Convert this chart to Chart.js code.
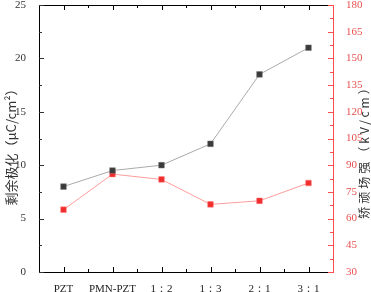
<!DOCTYPE html>
<html><head><meta charset="utf-8">
<script src="https://cdn.jsdelivr.net/npm/chart.js@4/dist/chart.umd.min.js"></script>
<style>html,body{margin:0;padding:0;background:#fff}#wrap{width:371px;height:292px}</style>
</head><body><div id="wrap"><canvas id="c" width="371" height="292"></canvas></div>
<script>
const categories = ["PZT", "PMN-PZT", "1：2", "1：3", "2：1", "3：1"];
const remanentPolarization = [8, 9.5, 10, 12, 18.5, 21];
const coerciveField = [65, 85, 82, 68, 70, 80];
const leftTitle = "剩余极化（μC/cm²）";
const rightTitle = "矫顽场强（kV/cm）";

const tickPlugin = {
  id: 'inTicks',
  afterDraw(chart) {
    const ctx = chart.ctx, a = chart.chartArea;
    const x = chart.scales.x, y = chart.scales.y, y1 = chart.scales.y1;
    ctx.save();
    ctx.strokeStyle = '#000'; ctx.lineWidth = 1;
    ctx.beginPath(); ctx.moveTo(a.left, a.top + 0.5); ctx.lineTo(a.right, a.top + 0.5); ctx.stroke();
    for (let i = 0; i < categories.length; i++) {
      const px = Math.round(x.getPixelForValue(i)) + 0.5;
      ctx.beginPath();
      ctx.moveTo(px, a.bottom); ctx.lineTo(px, a.bottom - 5);
      ctx.moveTo(px, a.top); ctx.lineTo(px, a.top + 5);
      ctx.stroke();
      if (i < categories.length - 1) {
        const mx = Math.round(x.getPixelForValue(i + 0.5)) + 0.5;
        ctx.beginPath();
        ctx.moveTo(mx, a.bottom); ctx.lineTo(mx, a.bottom - 3);
        ctx.moveTo(mx, a.top); ctx.lineTo(mx, a.top + 3);
        ctx.stroke();
      }
    }
    ctx.strokeStyle = '#333';
    for (let v = 0; v <= 25; v += 2.5) {
      const py = Math.round(y.getPixelForValue(v)) + 0.5;
      const len = (v % 5 === 0) ? 5 : 3;
      ctx.beginPath(); ctx.moveTo(a.left, py); ctx.lineTo(a.left + len, py); ctx.stroke();
    }
    ctx.strokeStyle = '#ff4d4d';
    for (let v = 30; v <= 180; v += 7.5) {
      const py = Math.round(y1.getPixelForValue(v)) + 0.5;
      const len = (Math.abs((v - 30) % 15) < 0.01) ? 5 : 3;
      ctx.beginPath(); ctx.moveTo(a.right, py); ctx.lineTo(a.right - len, py); ctx.stroke();
    }
    ctx.fillStyle = '#333';
    ctx.textAlign = 'center'; ctx.textBaseline = 'middle';
    ctx.font = '13px "Noto Sans CJK SC"';
    ctx.save(); ctx.translate(11, 144); ctx.rotate(-Math.PI / 2); ctx.fillText(leftTitle, 0, 0); ctx.restore();
    ctx.font = '12px "Noto Sans CJK SC"';
    ctx.save(); ctx.translate(364, 149); ctx.rotate(-Math.PI / 2);
    ctx.letterSpacing = '3px';
    ctx.fillText(rightTitle, 0, 0); ctx.restore();
    ctx.restore();
  }
};

new Chart(document.getElementById('c'), {
  type: 'line',
  data: {
    labels: categories,
    datasets: [
      { label: 'Pr', data: remanentPolarization, yAxisID: 'y', borderColor: '#aaaaaa', borderWidth: 1,
        pointStyle: 'rect', pointRadius: 4, pointBackgroundColor: '#3a3a3a', pointBorderColor: '#777', pointBorderWidth: 0.5, tension: 0 },
      { label: 'Ec', data: coerciveField, yAxisID: 'y1', borderColor: '#ff9c9c', borderWidth: 1,
        pointStyle: 'rect', pointRadius: 4, pointBackgroundColor: '#f02c2c', pointBorderColor: '#ff8080', pointBorderWidth: 0.5, tension: 0 }
    ]
  },
  options: {
    responsive: false, animation: false, devicePixelRatio: 1,
    layout: { padding: 0 },
    plugins: { legend: { display: false }, tooltip: { enabled: false } },
    scales: {
      x: {
        offset: true,
        grid: { display: false },
        border: { display: true, color: '#000', width: 1 },
        ticks: { color: '#222', font: { family: 'Liberation Serif', size: 11 }, padding: 3, maxRotation: 0, autoSkip: false },
        afterFit(s) { s.height = 20; s.paddingLeft = 0; s.paddingRight = 0; }
      },
      y: {
        position: 'left', min: 0, max: 25,
        grid: { display: false },
        border: { display: true, color: '#000', width: 1 },
        ticks: { stepSize: 5, color: '#333', font: { family: 'Liberation Serif', size: 11 }, padding: 5 },
        afterFit(s) { s.width = 39; s.paddingTop = 5; s.paddingBottom = 0; }
      },
      y1: {
        position: 'right', min: 30, max: 180,
        grid: { display: false },
        border: { display: true, color: '#ff4d4d', width: 1 },
        ticks: { stepSize: 15, color: '#e85050', font: { family: 'Liberation Serif', size: 11 }, padding: 5 },
        afterFit(s) { s.width = 38; s.paddingTop = 5; s.paddingBottom = 0; }
      }
    }
  },
  plugins: [tickPlugin]
});
</script></body></html>
